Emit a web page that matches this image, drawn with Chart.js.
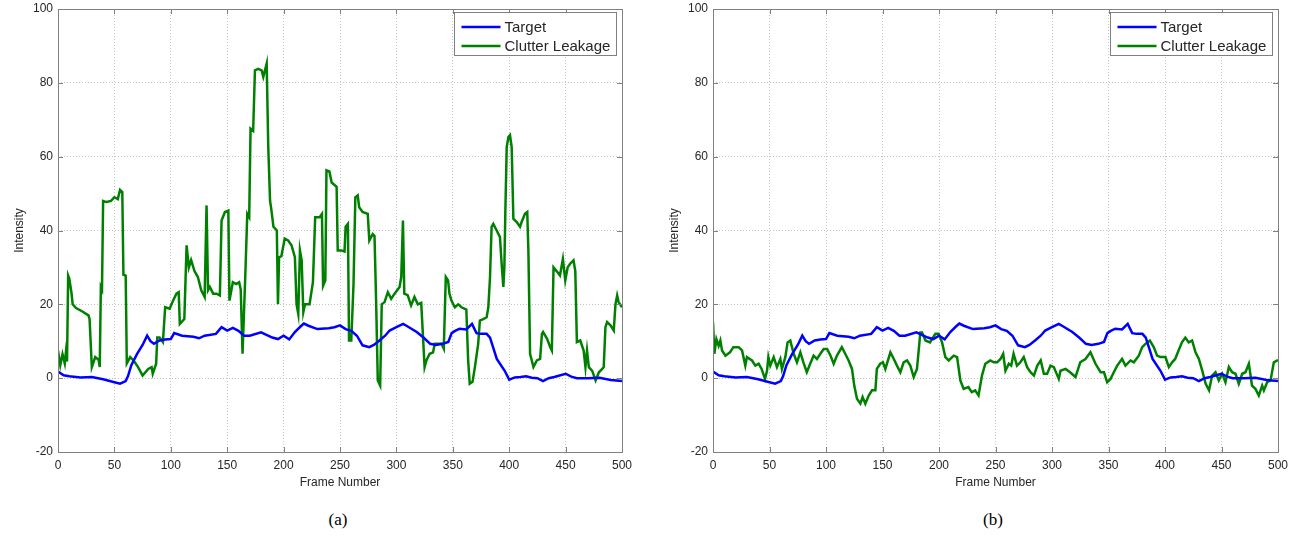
<!DOCTYPE html>
<html>
<head>
<meta charset="utf-8">
<script src="https://cdn.jsdelivr.net/npm/chart.js@4"></script>
<style>
    body { margin: 0; background: #fff; width: 1300px; height: 537px; overflow: hidden; position: relative; }
    .panel { position: absolute; top: 0; width: 650px; height: 500px; }
    .caption { position: absolute; top: 510px; width: 100px; text-align: center; font: 17px "Liberation Serif", "Times New Roman", serif; color: #000; }
</style>
</head>
<body>
<div class="panel" style="left:0"><canvas id="chartA"></canvas></div>
<div class="panel" style="left:650px"><canvas id="chartB"></canvas></div>
<div class="caption" style="left:288px">(a)</div>
<div class="caption" style="left:943px">(b)</div>
<script>
// Eixos
const xTicks = [0, 50, 100, 150, 200, 250, 300, 350, 400, 450, 500];
const yTicks = [-20, 0, 20, 40, 60, 80, 100];
const seriesNames = ["Target", "Clutter Leakage"];
const captions = ["(a)", "(b)"];

// Target (igual nos dois graficos)
const targetFrames = [0, 5, 10, 20, 30, 40, 50, 55, 60, 62, 65, 70, 75, 79, 82, 85, 90, 95, 100, 103, 110, 120, 125, 130, 140, 145, 150, 155, 160, 165, 170, 180, 190, 195, 200, 205, 210, 215, 218, 222, 230, 240, 245, 250, 255, 260, 265, 270, 276, 280, 285, 290, 294, 300, 306, 310, 318, 324, 330, 335, 341, 346, 349, 352, 356, 362, 367, 371, 375, 380, 383, 389, 396, 400, 405, 410, 415, 420, 425, 430, 435, 440, 450, 455, 460, 470, 480, 490, 500];
const targetVals = [1.8, 0.8, 0.5, 0.2, 0.3, -0.3, -1.1, -1.5, -0.8, 0.5, 3.5, 6.5, 9, 11.5, 10, 9.3, 10.2, 10.5, 10.6, 12.2, 11.5, 11.2, 10.8, 11.5, 12, 13.8, 12.9, 13.6, 12.8, 11.5, 11.5, 12.4, 11, 10.6, 11.5, 10.5, 12.5, 14, 14.8, 14.2, 13.3, 13.5, 13.8, 14.3, 13.3, 12.8, 11.5, 8.9, 8.4, 9, 10.2, 11.5, 12.9, 13.8, 14.7, 14, 12.5, 11, 9.3, 9, 9.3, 9.8, 12.2, 12.8, 13.4, 13.2, 14.7, 12.2, 12, 12, 11, 5.2, 2, -0.4, 0.2, 0.3, 0.5, 0.1, 0, -0.8, 0, 0.3, 1.2, 0.4, 0, 0, 0.1, -0.5, -0.8];

// Clutter Leakage (a)
const clutterAFrames = [0, 2, 4, 6, 7, 8, 9, 10, 12, 13, 16, 22, 27, 28, 30, 33, 36, 37, 38, 39, 40, 43, 47, 50, 53, 55, 57, 58, 60, 61, 64, 67, 71, 75, 80, 83, 84, 87, 88, 90, 93, 95, 99, 102, 105, 107, 108, 112, 114, 116, 118, 121, 124, 127, 130, 131.7, 133, 134.6, 137.6, 140.5, 143.5, 145, 148, 151, 152, 155, 158, 160.6, 162, 163.6, 166, 167.8, 169.5, 170.7, 173, 174.6, 177.5, 180.5, 182, 185, 186.4, 188, 189, 191, 194, 195, 196, 198, 201, 204, 207, 210, 211.5, 213, 214.5, 216, 217.5, 219, 223, 226, 228, 232, 234, 235, 237, 238, 240.6, 242.6, 247, 248, 251, 254, 255, 257, 258, 260, 262, 263.6, 265.7, 267, 270, 274.6, 276, 279, 280.6, 282, 283.5, 285.6, 287, 289.5, 292.4, 295.4, 298.4, 302.8, 304.3, 305.8, 307, 310, 313, 316, 319, 322, 325, 326.6, 329.5, 332.5, 334, 337, 340, 342, 343.8, 345.8, 347, 348.8, 351.8, 354.8, 357.7, 360.7, 362, 363.6, 365, 367.5, 369.6, 372.5, 374, 377, 380, 381.5, 383, 384.4, 385.9, 388.9, 391.8, 393.3, 394.8, 395.7, 396.6, 397.8, 399.3, 400.7, 402.2, 403.7, 406.7, 409.6, 411, 414, 416, 417, 418.5, 421.5, 424.5, 427.4, 429, 430, 433.5, 436.4, 437.8, 439.3, 442, 445, 447.6, 449.7, 451.8, 454, 457, 458.6, 460, 463, 466, 467.6, 469, 470.6, 473.6, 476.6, 479.5, 482.5, 483.8, 485.3, 486.8, 489.8, 492.7, 494.2, 495.7, 497, 500];
const clutterAVals = [7.5, 3.5, 6.5, 4, 7, 4.5, 27.8, 27, 23, 20, 19, 18, 17, 16, 3, 5.7, 5, 3, 24.7, 24, 48, 47.7, 48, 49, 48.5, 51, 50.4, 28, 27.8, 4, 5.7, 4.8, 3, 0.7, 2.5, 3, 1.2, 3.9, 11, 11, 9.8, 19.2, 18.8, 21, 22.9, 23.3, 14.7, 16, 36, 30, 32, 29, 27.4, 23.8, 22, 46.8, 23.8, 24.7, 22.9, 22.9, 22.4, 42.7, 45, 45.4, 21, 26, 25.5, 26, 24, 6.6, 27.4, 44.5, 43.6, 67.6, 67, 83.4, 83.8, 83.4, 81.6, 85.2, 62.6, 48, 46, 41, 40, 20, 32.8, 33, 37.8, 37.3, 36, 32.8, 20, 17.4, 34.6, 32, 17.9, 20, 20, 26, 43.6, 43.6, 44.5, 25, 26.5, 56.3, 56, 53, 51.8, 34.6, 34.6, 34.3, 41, 41.8, 10.2, 10.2, 25.6, 49, 49.5, 46.3, 45, 44.5, 37.3, 39, 38.5, 21, -0.6, -2, 20, 20.6, 23.3, 21.5, 22.9, 24.7, 27.4, 42.7, 22.9, 22.5, 19.7, 22, 20, 20.4, 3, 4.8, 6.6, 7, 9.3, 9.3, 9.3, 8, 27.4, 26.5, 22.9, 21, 19.2, 20, 19.2, 18.8, 18.6, 4.8, -1.5, -1, 3, 9.3, 15.6, 16, 16.5, 19.2, 27.4, 41, 41.8, 40, 38.2, 31, 24.7, 30, 45.4, 62.6, 65.3, 65.8, 62.6, 43.2, 42.3, 41, 42.3, 44.5, 45, 34.6, 6.6, 3, 4.8, 5.2, 12, 12.5, 10.7, 8.4, 7.5, 30, 29, 27.8, 32.3, 26.5, 30, 31, 31.9, 29, 9.8, 10.2, 7.5, 3, 7.5, 3, 2, -0.6, 1.6, 2.5, 3, 13.8, 15.2, 14.3, 12.9, 20, 22.4, 20.6, 19.2];

// Clutter Leakage (b)
const clutterBFrames = [0, 1.2, 3, 5, 6.5, 8, 11, 15, 18, 22.7, 25.7, 28.6, 30, 34.5, 37.5, 40.4, 43, 46, 47.8, 49, 50.7, 53.7, 56.6, 59.6, 61, 64, 66, 68.4, 71.4, 74.3, 77.3, 80, 83, 86, 89, 92, 95, 98, 101, 104, 106.8, 109.7, 114, 117, 120, 123, 125, 127.4, 130.4, 132.4, 134.8, 137.8, 140.7, 143.7, 145, 148, 150.4, 152.5, 157, 160, 162.8, 165.8, 168.7, 171.7, 174.6, 177.6, 180.5, 183.5, 185, 188, 192, 196.8, 199.7, 202.7, 205.6, 208.6, 213, 216, 218.9, 221.8, 226, 229, 232, 235, 238, 241, 245.4, 248.5, 251.5, 254.4, 256.8, 258.8, 261.8, 263.9, 266, 269, 272, 275, 278, 281, 284, 287, 290, 292.8, 295.7, 298.7, 301.6, 306, 307.5, 312, 316, 320.8, 325, 329.6, 334, 338.5, 343, 346, 348.8, 351.8, 354.7, 357.7, 362, 365, 369.5, 372.4, 376.8, 379.8, 382.7, 386.6, 390, 393, 396, 400.4, 403.4, 406.3, 409, 412, 415, 418, 421, 424, 427, 430, 433, 436, 439, 441.7, 444.7, 447.6, 450.6, 453.5, 456.5, 459.4, 462.4, 465.3, 468.3, 471.2, 474.2, 477, 480, 483, 486, 487.5, 490.4, 493.4, 496.3, 499.3, 500];
const clutterBVals = [15.1, 6.6, 10.6, 8.8, 10.2, 7.5, 6.1, 7, 8.4, 8.4, 7.5, 3.4, 5.7, 4.8, 3.4, 3.9, 2.5, -0.2, 2, 5.7, 3.4, 5.7, 3, 5.2, 2.5, 5.7, 9.7, 10.2, 6.6, 4.3, 7, 4.3, 1.6, 3.9, 6.1, 5.2, 6.6, 7.9, 7.9, 6.1, 3.9, 6.1, 8.4, 6.6, 4.8, 2.5, -2, -5.6, -6.9, -5.1, -6.9, -4.7, -3.3, -3.3, 2.5, 3.9, 4.3, 2.5, 7, 5.2, 3.4, 1.6, 4.3, 4.8, 3.4, 0.3, 2.5, 12.4, 12.4, 10.2, 9.7, 12, 12, 9.7, 5.7, 4.8, 6.1, 5.7, -0.6, -2.9, -2.4, -3.8, -3.3, -4.7, 0.7, 3.9, 4.8, 4.3, 4.3, 5.2, 6.6, 2, 3.9, 3.4, 6.6, 3.4, 4.3, 5.7, 3, 1.6, 0.7, 3.4, 4.8, 1.2, 1.2, 3.4, 3, -0.2, 2, 2.5, 1.6, 0.3, 4.3, 5.2, 7, 3.9, 1.6, 1.6, -1.1, -0.2, 1.6, 3.4, 5.2, 3.4, 4.8, 4.3, 6.1, 8.4, 9.3, 10.2, 8.4, 6.1, 5.7, 5.7, 3, 4.3, 5.2, 7.5, 9.7, 11, 9.7, 10.2, 7, 5.2, 2, -1.5, -3.3, 0.7, 1.6, -0.6, 1.2, -1.1, 3, 1.6, 1.2, -1.5, 1.2, 1.6, 3.9, -2, -2.9, -4.7, -2, -3.3, -1.1, -0.6, 4.3, 4.8, 4.8];

const FONT = "'Liberation Sans', Arial, Helvetica, sans-serif";
const TEXT = "#262626";
const AXIS = "#808080";

function toPoints(frames, vals) {
    return frames.map((f, i) => ({ x: f, y: vals[i] }));
}

// moldura estilo MATLAB + legenda dentro do grafico
const matlabFrame = {
    id: "matlabFrame",
    afterDatasetsDraw(chart) {
        const { ctx, chartArea: a, scales } = chart;
        ctx.save();
        ctx.strokeStyle = AXIS;
        ctx.lineWidth = 1;
        ctx.strokeRect(Math.round(a.left) + 0.5, Math.round(a.top) + 0.5, Math.round(a.width), Math.round(a.height));
        ctx.beginPath();
        xTicks.forEach(v => {
            const px = Math.round(scales.x.getPixelForValue(v)) + 0.5;
            ctx.moveTo(px, a.bottom); ctx.lineTo(px, a.bottom - 5);
            ctx.moveTo(px, a.top); ctx.lineTo(px, a.top + 5);
        });
        yTicks.forEach(v => {
            const py = Math.round(scales.y.getPixelForValue(v)) + 0.5;
            ctx.moveTo(a.left, py); ctx.lineTo(a.left + 5, py);
            ctx.moveTo(a.right, py); ctx.lineTo(a.right - 5, py);
        });
        ctx.stroke();

        // legenda
        const w = 162, h = 43;
        const bx = Math.round(a.right - 6 - w) + 0.5, by = Math.round(a.top + 3) + 0.5;
        ctx.fillStyle = "#fff";
        ctx.fillRect(bx, by, w, h);
        ctx.strokeStyle = AXIS;
        ctx.strokeRect(bx, by, w, h);
        ctx.font = "15px " + FONT;
        ctx.textBaseline = "middle";
        chart.data.datasets.forEach((ds, i) => {
            const y = by + 14.5 + i * 19;
            ctx.strokeStyle = ds.borderColor;
            ctx.lineWidth = 2.5;
            ctx.beginPath();
            ctx.moveTo(bx + 7, y); ctx.lineTo(bx + 46, y);
            ctx.stroke();
            ctx.fillStyle = TEXT;
            ctx.fillText(ds.label, bx + 50, y + 1);
        });
        ctx.restore();
    }
};

function makeOptions(padLeft, padRight) {
    return {
        responsive: true,
        maintainAspectRatio: false,
        animation: false,
        layout: { padding: { left: padLeft, right: padRight, top: 9, bottom: 0 } },
        plugins: { legend: { display: false }, tooltip: { enabled: false } },
        scales: {
            x: {
                type: "linear",
                min: 0, max: 500,
                afterBuildTicks: s => { s.ticks = xTicks.map(v => ({ value: v })); },
                afterFit: s => { s.height = 48; },
                grid: { color: "#c4c4c4", drawTicks: false },
                border: { display: false, dash: [1, 2] },
                ticks: { color: TEXT, font: { family: FONT, size: 12 }, padding: 6, maxRotation: 0 },
                title: { display: true, text: "Frame Number", color: TEXT, font: { family: FONT, size: 12 }, padding: { top: 0, bottom: 10 } }
            },
            y: {
                min: -20, max: 100,
                afterBuildTicks: s => { s.ticks = yTicks.map(v => ({ value: v })); },
                afterFit: s => { s.width = 53; s.paddingTop = 0; s.paddingBottom = 0; },
                grid: { color: "#c4c4c4", drawTicks: false },
                border: { display: false, dash: [1, 2] },
                ticks: { color: TEXT, font: { family: FONT, size: 12 }, padding: 5 },
                title: { display: true, text: "Intensity", color: TEXT, font: { family: FONT, size: 12 }, padding: { top: 7, bottom: 0 } }
            }
        }
    };
}

function makeChart(id, clutterFrames, clutterVals, padLeft, padRight) {
    new Chart(document.getElementById(id), {
        type: "line",
        data: {
            datasets: [
                { label: seriesNames[0], data: toPoints(targetFrames, targetVals), borderColor: "#0000ff", borderWidth: 2.5, pointRadius: 0, tension: 0 },
                { label: seriesNames[1], data: toPoints(clutterFrames, clutterVals), borderColor: "#008000", borderWidth: 2.5, pointRadius: 0, tension: 0 }
            ]
        },
        options: makeOptions(padLeft, padRight),
        plugins: [matlabFrame]
    });
}

makeChart("chartA", clutterAFrames, clutterAVals, 5, 28);
makeChart("chartB", clutterBFrames, clutterBVals, 10, 22);
</script>
</body>
</html>
